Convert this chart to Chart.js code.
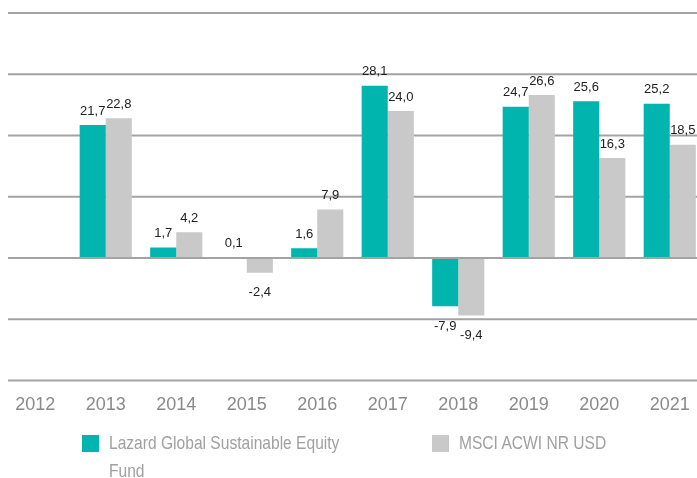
<!DOCTYPE html>
<html>
<head>
<meta charset="utf-8">
<script src="https://cdn.jsdelivr.net/npm/chart.js@4/dist/chart.umd.min.js"></script>
<style>
    body { margin: 0; background: #fff; overflow: hidden; width: 697px; height: 478px; position: relative; }
    #wrap { position: absolute; left: 0; top: 0; width: 705px; height: 430px; }
    .legend-item { position: absolute; top: 429px; display: flex; align-items: flex-start;
        font-family: "Liberation Sans", Arial, sans-serif;
        font-size: 19px; line-height: 28px; color: #a0a0a0; }
    .legend-box { width: 17px; height: 17px; margin-top: 6px; margin-right: 10px; flex: none; }
    .legend-text { transform: scaleX(0.82); transform-origin: left top; }
</style>
</head>
<body>
<div id="wrap"><canvas id="returnsChart"></canvas></div>
<div id="legend"></div>
<script>
const years = ['2012', '2013', '2014', '2015', '2016', '2017', '2018', '2019', '2020', '2021'];
const fundValues = [null, 21.7, 1.7, 0.1, 1.6, 28.1, -7.9, 24.7, 25.6, 25.2];
const indexValues = [null, 22.8, 4.2, -2.4, 7.9, 24.0, -9.4, 26.6, 16.3, 18.5];
const gridValues = [-20, -10, 0, 10, 20, 30, 40];

const fundColor = '#00b5ad';
const indexColor = '#c9c9c9';

// horizontal lines: normal ones behind bars, zero line on top
function drawLine(chart, value) {
    const ctx = chart.ctx;
    const y = chart.scales.y.getPixelForValue(value);
    ctx.save();
    ctx.strokeStyle = '#a3a3a3';
    ctx.lineWidth = 2;
    ctx.beginPath();
    ctx.moveTo(8, y);
    ctx.lineTo(chart.chartArea.right, y);
    ctx.stroke();
    ctx.restore();
}

const gridPlugin = {
    id: 'gridLines',
    beforeDatasetsDraw(chart) {
        gridValues.forEach(v => { if (v !== 0) drawLine(chart, v); });
    },
    afterDatasetsDraw(chart) {
        drawLine(chart, 0);
    }
};

const valueLabels = {
    id: 'valueLabels',
    afterDraw(chart) {
        const ctx = chart.ctx;
        ctx.save();
        ctx.font = '13px "Liberation Sans", Arial, sans-serif';
        ctx.fillStyle = '#222';
        ctx.textAlign = 'center';
        ctx.textBaseline = 'middle';
        chart.data.datasets.forEach((ds, i) => {
            chart.getDatasetMeta(i).data.forEach((bar, j) => {
                const v = ds.data[j];
                if (v === null) return;
                const y = v >= 0 ? bar.y - 14 : bar.y + 20;
                ctx.fillText(v.toFixed(1).replace('.', ','), bar.x, y);
            });
        });
        ctx.restore();
    }
};

const returnsChart = new Chart(document.getElementById('returnsChart'), {
    type: 'bar',
    data: {
        labels: years,
        datasets: [{
            label: 'Lazard Global Sustainable Equity Fund',
            data: fundValues,
            backgroundColor: fundColor
        }, {
            label: 'MSCI ACWI NR USD',
            data: indexValues,
            backgroundColor: indexColor
        }]
    },
    options: {
        responsive: true,
        maintainAspectRatio: false,
        animation: false,
        categoryPercentage: 0.74,
        barPercentage: 1,
        layout: { padding: { top: 13, left: 0, right: 0, bottom: 0 } },
        plugins: {
            legend: { display: false },
            tooltip: { enabled: false }
        },
        scales: {
            x: {
                grid: { display: false, drawTicks: false },
                border: { display: false },
                ticks: {
                    padding: 14,
                    color: '#8a8a8a',
                    font: { family: '"Liberation Sans", Arial, sans-serif', size: 18 }
                }
            },
            y: {
                display: false,
                min: -20,
                max: 40
            }
        }
    },
    plugins: [gridPlugin, valueLabels]
});

// legend under the chart
const legendEl = document.getElementById('legend');
const legendLeft = [82, 432];
returnsChart.data.datasets.forEach((ds, i) => {
    const item = document.createElement('div');
    item.className = 'legend-item';
    item.style.left = legendLeft[i] + 'px';
    const box = document.createElement('div');
    box.className = 'legend-box';
    box.style.background = ds.backgroundColor;
    const text = document.createElement('div');
    text.className = 'legend-text';
    text.textContent = ds.label;
    if (i === 0) text.style.width = '300px';
    item.appendChild(box);
    item.appendChild(text);
    legendEl.appendChild(item);
});
</script>
</body>
</html>
